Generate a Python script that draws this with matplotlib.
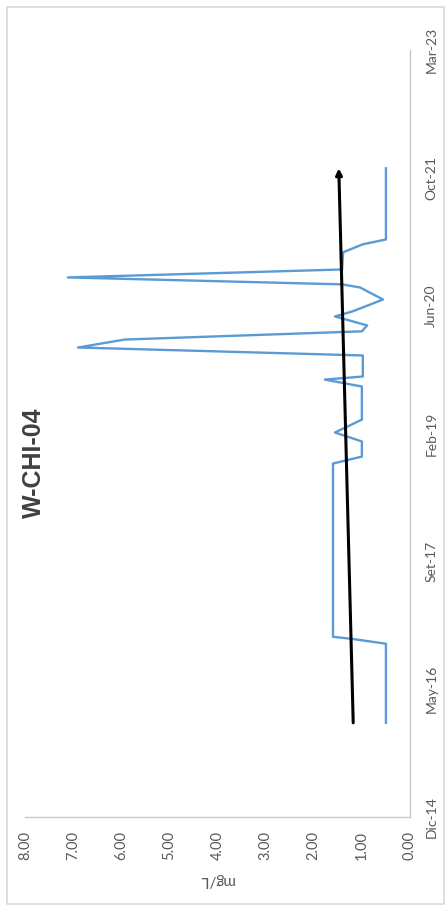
import matplotlib
matplotlib.use('Agg')
import matplotlib.pyplot as plt
import matplotlib.dates as mdates
import pandas as pd
from matplotlib.patches import Rectangle

# ---------------- data ----------------
sample_dates = ['2016-01-02', '2016-11-05', '2016-11-24', '2016-12-02', '2018-10-08',
                '2018-11-04', '2019-01-02', '2019-02-06', '2019-03-28', '2019-08-04',
                '2019-08-31', '2019-09-12', '2019-12-03', '2020-01-03', '2020-02-03',
                '2020-03-06', '2020-03-29', '2020-05-03', '2020-05-23', '2020-07-08',
                '2020-08-24', '2020-09-05', '2020-10-02', '2020-11-02', '2021-01-08',
                '2021-02-08', '2021-02-27', '2021-12-01']
concentration = [0.50, 0.50, 1.21, 1.60, 1.60,
                 1.00, 1.00, 1.56, 1.00, 1.00,
                 1.77, 0.98, 0.98, 6.90, 5.93,
                 1.00, 0.89, 1.56, 1.19, 0.56,
                 1.04, 1.41, 7.11, 1.41, 1.39,
                 0.98, 0.50, 0.50]
trend_dates = ['2016-01-02', '2021-12-01']
trend_values = [1.18, 1.48]
date_ticks = ['2014-12-31', '2016-05-12', '2017-09-22', '2019-02-02',
              '2020-06-14', '2021-10-25', '2023-03-07']
date_labels = ['Dic-14', 'May-16', 'Set-17', 'Feb-19', 'Jun-20', 'Oct-21', 'Mar-23']
value_ticks = [0, 1, 2, 3, 4, 5, 6, 7, 8]
value_labels = ['0.00', '1.00', '2.00', '3.00', '4.00', '5.00', '6.00', '7.00', '8.00']
title = 'W-CHI-04'
unit_label = 'mg/L'

# ---------------- figure ----------------
W, H = 445, 906
fig = plt.figure(figsize=(W / 100, H / 100), dpi=100)
fig.patch.set_facecolor('white')
fig.patches.append(Rectangle((7 / W, 2 / H), (444 - 7) / W, 897 / H,
                             transform=fig.transFigure, fill=False,
                             edgecolor='#d9d9d9', lw=1.2))

ax = fig.add_axes([25 / W, 89 / H, 385 / W, 767 / H])

dnum = mdates.date2num(pd.to_datetime(sample_dates))
tnum = mdates.date2num(pd.to_datetime(trend_dates))
ticknum = mdates.date2num(pd.to_datetime(date_ticks))

ax.plot(concentration, dnum, color='#5b9bd5', lw=1.7, solid_joinstyle='round')
ax.annotate('', xy=(trend_values[1], tnum[1]), xytext=(trend_values[0], tnum[0]),
            arrowprops=dict(arrowstyle='-|>', color='black', lw=2.2,
                            mutation_scale=9, shrinkA=0, shrinkB=0))

ax.set_xlim(8, 0)
ax.set_ylim(ticknum[0], ticknum[-1])

for s in ['left', 'top']:
    ax.spines[s].set_visible(False)
for s in ['bottom', 'right']:
    ax.spines[s].set_color('#c8c8c8')
    ax.spines[s].set_linewidth(1.0)

ax.yaxis.tick_right()
ax.set_xticks(value_ticks)
ax.set_xticklabels(value_labels, rotation=90, family='Lato', fontsize=10.5, color='#595959')
ax.set_yticks(ticknum)
ax.set_yticklabels(date_labels, rotation=90, va='center', family='Lato',
                   fontsize=10, color='#595959')
ax.tick_params(axis='x', length=0, pad=10)
ax.tick_params(axis='y', length=0, pad=11)

fig.text(34 / W, 1 - 463 / H, title, rotation=90, ha='center', va='center',
         fontsize=18, fontweight='bold', family='Liberation Sans', color='#404040')
fig.text(216 / W, 1 - 880 / H, unit_label, rotation=180, ha='center', va='center',
         fontsize=11, family='Lato', color='#595959')

fig.savefig('out.png', dpi=100, facecolor='white')
